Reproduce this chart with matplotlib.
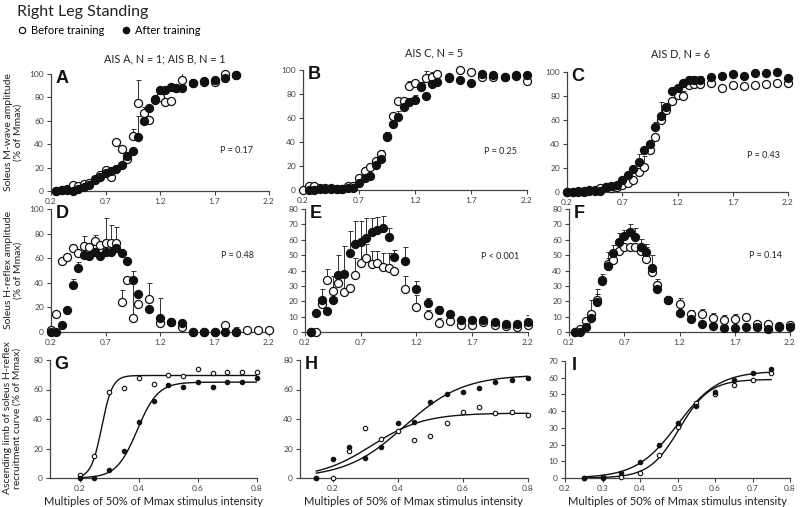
import matplotlib.pyplot as plt
import numpy as np
from matplotlib.lines import Line2D

plt.rcParams['font.family'] = ['Lato', 'DejaVu Sans']

nan = np.nan

# ---- data ----
# A: M-wave, AIS A/B
a_x = [0.25, 0.30, 0.35, 0.40, 0.45, 0.50, 0.55, 0.60, 0.65, 0.70, 0.75, 0.80, 0.85, 0.90, 0.95,
       1.00, 1.05, 1.10, 1.15, 1.20, 1.25, 1.30, 1.35, 1.40, 1.50, 1.60, 1.70, 1.80, 1.90]
a_before = [0, 1, 2, 5.5, 4, 6, 7, 10, 14, 18, 12, 42, 36, 27, 47, 75, 67, 61, 78, 80, 76, 77, 88, 95,
            92, 93, 93, 100, 99]
a_after = [0, 1, 1, 0, 2, 3, 5, 9, 12, 15, 17, 19, 22, 30, 34, 46, 60, 71, 79, 86, 86, 89, 88, 88,
           92, 94, 95, 97, 99]
a_before_err = [0, 0, 0, 0, 0, 0, 0, 3, 3, 0, 0, 0, 0, 0, 6, 20, 5, 0, 0, 5, 0, 0, 0, 8, 0, 0, 0, 0, 0]
a_after_err = [0, 0, 0, 0, 0, 0, 3, 2, 0, 0, 0, 0, 0, 0, 0, 18, 0, 0, 0, 3, 2, 0, 0, 0, 0, 0, 0, 0, 0]

# B, C: M-wave, AIS C / AIS D
bc_x = [0.20, 0.25, 0.30, 0.35, 0.40, 0.45, 0.50, 0.55, 0.60, 0.65, 0.70, 0.75, 0.80, 0.85, 0.90,
        0.95, 1.00, 1.05, 1.10, 1.15, 1.20, 1.25, 1.30, 1.35, 1.40, 1.50, 1.60, 1.70, 1.80, 1.90,
        2.00, 2.10, 2.20]
b_before = [0, 3, 3, 2, 2, 1.5, 1, 1, 3, 3, 10, 16, 19, 24, 30, 45, 62, 74, 74, 87, 89, 87, 93, 94, 97,
            94, 100, 98, 94, 94, 94, 95, 91]
b_after = [nan, 0, 0, 0.5, 1, 0.5, 1, 1, 1.5, 2, 5.5, 10, 12, 21, 26, 44, 55, 61, 69, 73, 75, 86, 78, 88, 90,
           93, 92, 89, 97, 96, 94, 96, 96]
b_before_err = [0, 0, 0, 0, 0, 0, 0, 0, 0, 0, 0, 0, 0, 2, 3, 3, 2, 3, 2, 4, 3, 3, 6, 4, 2,
                0, 0, 2, 0, 0, 0, 0, 0]
b_after_err = [0, 0, 0, 0, 0, 0, 0, 0, 0, 0, 0, 0, 0, 0, 0, 0, 4, 5, 5, 4, 4, 0, 3, 2, 0,
               0, 0, 0, 0, 0, 0, 0, 0]
c_before = [0, 0, 0.5, 1, 1.5, 2, 3, 4, 3, 4, 6, 7.5, 10, 17, 21, 35, 45.5, 60, 68, 76, 81, 80, 89, 90, 90,
            91, 87, 89, 88.5, 89, 90, 91, 91]
c_after = [0, 0, 0, 0, 0.5, 1, 1, 4, 5, 6, 10, 14, 19.5, 25, 35, 40, 54, 63, 71, 84, 87, 91, 93, 93, 93,
           96, 97, 98, 97, 99, 99, 100, 95]
c_before_err = [0, 0, 0, 0, 0, 0, 0, 0, 0, 0, 0, 0, 0, 0, 9, 0, 3, 0, 0, 0, 4, 4, 0, 0, 0,
                0, 0, 0, 0, 0, 0, 0, 0]
c_after_err = [0, 0, 0, 0, 0, 0, 0, 0, 0, 0, 0, 0, 0, 7, 0, 0, 4, 12, 0, 0, 0, 0, 4, 4, 4,
               0, 0, 0, 0, 0, 0, 0, 0]

# D, E, F: H-reflex
def_x = [0.20, 0.25, 0.30, 0.35, 0.40, 0.45, 0.50, 0.55, 0.60, 0.65, 0.70, 0.75, 0.80, 0.85, 0.90,
         0.95, 1.00, 1.10, 1.20, 1.30, 1.40, 1.50, 1.60, 1.70, 1.80, 1.90, 2.00, 2.10, 2.20]
d_before = [2, 15, 58, 61, 68, 64, 70, 69, 74, 71, 72, 72, 72, 24.5, 42, 11.7, 23,
            27, 7.4, 8, 4, 0, 0, 0, 5.5, 0, 1.4, 1.4, 1.4]
d_after = [0, 0, 5.5, 18, 38, 52, 63, 62, 65, 62, 65, 65, 68, 64.6, 58, 42, 31,
           19, 11, 8, 7, 0, 0, 0, 0, 0, nan, nan, nan]
d_before_err = [0, 0, 0, 0, 0, 0, 8, 0, 5, 0, 21, 15, 13, 10, 0, 38, 0,
                13, 20, 0, 0, 0, 0, 0, 0, 0, 0, 0, 0]
d_after_err = [0, 0, 0, 0, 5, 5, 0, 0, 0, 0, 0, 0, 0, 0, 0, 0, 0,
               0, 0, 0, 0, 0, 0, 0, 0, 4, 0, 0, 0]
e_before = [nan, 0, 0, 18.5, 34, 26.6, 32, 25.7, 28.3, 37, 45, 48, 44, 45, 42.5, 41.5, 40,
            27.7, 16.3, 11, 6, 7, 4.5, 4.5, 6.5, 4.5, 4, 3.5, 4.5]
e_after = [nan, 0, 12.6, 21, 13.7, 20.7, 37, 38, 51.7, 57, 58.4, 61, 65, 66.5, 67.6, 61.5, 48.6,
           46.4, 28, 19, 14, 11.5, 8, 8, 8, 6.5, 5.5, 5.5, 6.5]
e_before_err = [0, 0, 0, 0, 7, 10, 0, 14, 0, 11, 13, 9, 9, 8, 9, 10, 0,
                9, 8, 3, 3, 0, 0, 0, 0, 0, 0, 0, 0]
e_after_err = [0, 0, 0, 7, 0, 0, 13, 18, 14, 15, 14, 13, 9, 8, 8, 6, 5,
               9, 5, 3, 3, 1, 0, 0, 2, 0, 0, 0, 4.5]
f_before = [nan, 0, 2.2, 7, 11.6, 20.7, 34, 44, 47, 52.8, 55.6, 55.6, 55.6, 52.8, 47.3, 39.2, 30.5,
            21, 18, 11.6, 12, 9.4, 8, 8.7, 9.8, 5, 5, 3.5, 4.4]
f_after = [nan, 0, 0, 3, 9.4, 19.6, 33, 43, 51.7, 58.4, 62.6, 65, 61.7, 55.6, 52.3, 41.4, 28,
           21, 12.4, 8.7, 5.4, 4, 2.8, 2.8, 3.3, 3.3, 2.2, 3.7, 3.3]
f_before_err = [0, 0, 0, 0, 9, 7, 0, 8, 0, 0, 0, 0, 0, 0, 10, 11, 4,
                0, 4, 3, 3, 3, 3, 3, 2, 1, 0, 0, 0]
f_after_err = [0, 0, 0, 0, 0, 5, 4.5, 5, 5, 6, 4, 5, 6, 5, 3, 2, 0,
               2, 0, 0, 0, 0, 0, 0, 0, 0, 0, 0, 0]

# G, H, I: ascending limb + sigmoid fits (top, x50, slope)
g_x = def_x[:13]
g_before = d_before[:13]
g_after = d_after[:13]
g_fit_before = (69.5, 0.275, 0.018)
g_fit_after = (65, 0.395, 0.035)

h_x = [0.15, 0.20, 0.25, 0.30, 0.35, 0.40, 0.45, 0.50, 0.55, 0.60, 0.65, 0.70, 0.75, 0.80]
h_before = e_before[1:15]
h_after = e_after[1:15]
h_fit_before = (44, 0.32, 0.08)
h_fit_after = (70, 0.42, 0.09)

i_x = [0.25, 0.30, 0.35, 0.40, 0.45, 0.50, 0.55, 0.60, 0.65, 0.70, 0.75]
i_before = [0.2, 0.4, 0.4, 2.8, 13.8, 30.5, 44.7, 50.4, 55.4, 58.6, 62.6]
i_after = f_after[1:12]
i_fit_before = (59, 0.505, 0.04)
i_fit_after = (64, 0.50, 0.055)

p_values = ['P = 0.17', 'P = 0.25', 'P = 0.43', 'P = 0.48', 'P < 0.001', 'P = 0.14']
col_titles = ['AIS A, N = 1; AIS B, N = 1', 'AIS C, N = 5', 'AIS D, N = 6']

# ---- figure ----
fig = plt.figure(figsize=(8, 5.07), dpi=100)
W, H = 800, 507
AX_COL = '#444444'


def add_ax(l, r, t, b):
    return fig.add_axes([l / W, 1 - b / H, (r - l) / W, (b - t) / H])


def style(ax, xlim, xticks, ylim, yticks, letter, lx=0.02):
    ax.set_xlim(xlim)
    ax.set_ylim(ylim)
    ax.set_xticks(xticks)
    ax.set_yticks(yticks)
    ax.set_xticklabels([('%g' % t) for t in xticks])
    for s in ['top', 'right']:
        ax.spines[s].set_visible(False)
    for s in ['left', 'bottom']:
        ax.spines[s].set_color(AX_COL)
        ax.spines[s].set_linewidth(0.9)
    ax.tick_params(direction='out', length=3, width=0.8, colors=AX_COL, labelsize=6, pad=2)
    ax.patch.set_alpha(0)
    ax.text(lx, 1.03, letter, transform=ax.transAxes, ha='left', va='top',
            fontsize=13, fontweight='bold', family='Liberation Sans', color='#111111')


def err(ax, x, y, e):
    x = np.array(x, float); y = np.array(y, float); e = np.array(e, float)
    m = e > 0
    if m.any():
        ax.errorbar(x[m], y[m], yerr=[np.zeros(m.sum()), e[m]], fmt='none', ecolor='#333333',
                    elinewidth=0.7, capsize=1.8, capthick=0.7, zorder=2)


def big(ax, x, before, after, be, ae):
    err(ax, x, before, be)
    err(ax, x, after, ae)
    ax.plot(x, before, 'o', ms=5.8, mfc='white', mec='#111111', mew=0.9, ls='none', zorder=3, clip_on=False)
    ax.plot(x, after, 'o', ms=5.8, mfc='#111111', mec='#111111', mew=0.9, ls='none', zorder=4, clip_on=False)


def sig(x, p):
    top, x50, k = p
    return top / (1 + np.exp((x50 - x) / k))


def small(ax, x, before, after, fb, fa, x0, x1):
    xs = np.linspace(x0, x1, 200)
    ax.plot(xs, sig(xs, fb), color='#111111', lw=1.0, zorder=2)
    ax.plot(xs, sig(xs, fa), color='#111111', lw=1.0, zorder=2)
    ax.plot(x, before, 'o', ms=3.2, mfc='white', mec='#111111', mew=0.8, ls='none', zorder=3, clip_on=False)
    ax.plot(x, after, 'o', ms=3.2, mfc='#111111', mec='#111111', mew=0.8, ls='none', zorder=4, clip_on=False)


big_xt = [0.2, 0.7, 1.2, 1.7, 2.2]

axA = add_ax(51, 269, 74, 191)
big(axA, a_x, a_before, a_after, a_before_err, a_after_err)
style(axA, (0.2, 2.2), big_xt, (0, 100), range(0, 101, 20), 'A')

axB = add_ax(303, 527, 70, 190)
big(axB, bc_x, b_before, b_after, b_before_err, b_after_err)
style(axB, (0.2, 2.2), big_xt, (0, 100), range(0, 101, 20), 'B')

axC = add_ax(567, 788, 72, 192)
big(axC, bc_x, c_before, c_after, c_before_err, c_after_err)
style(axC, (0.2, 2.2), big_xt, (0, 100), range(0, 101, 20), 'C')

axD = add_ax(51, 269, 209, 332)
big(axD, def_x, d_before, d_after, d_before_err, d_after_err)
style(axD, (0.2, 2.2), big_xt, (0, 100), range(0, 101, 20), 'D')

axE = add_ax(305, 528, 209, 332)
big(axE, def_x, e_before, e_after, e_before_err, e_after_err)
style(axE, (0.2, 2.2), big_xt, (0, 80), range(0, 81, 10), 'E')

axF = add_ax(569, 790, 209, 332)
big(axF, def_x, f_before, f_after, f_before_err, f_after_err)
style(axF, (0.2, 2.2), big_xt, (0, 80), range(0, 81, 10), 'F')

axG = add_ax(50, 257, 360, 478)
small(axG, g_x, g_before, g_after, g_fit_before, g_fit_after, 0.2, 0.8)
style(axG, (0.1, 0.8), [0.2, 0.4, 0.6, 0.8], (0, 80), range(0, 81, 20), 'G')

axH = add_ax(300, 528, 360, 478)
small(axH, h_x, h_before, h_after, h_fit_before, h_fit_after, 0.15, 0.8)
style(axH, (0.1, 0.8), [0.2, 0.4, 0.6, 0.8], (0, 80), range(0, 81, 20), 'H')

axI = add_ax(565, 790, 361, 478)
small(axI, i_x, i_before, i_after, i_fit_before, i_fit_after, 0.25, 0.75)
style(axI, (0.2, 0.8), [0.2, 0.3, 0.4, 0.5, 0.6, 0.7, 0.8], (0, 70), range(0, 71, 10), 'I', lx=0.03)

# P values
p_pos = [(axA, 0.853, 0.35), (axB, 0.88, 0.32), (axC, 0.887, 0.30),
         (axD, 0.853, 0.62), (axE, 0.875, 0.61), (axF, 0.887, 0.62)]
for (ax, px, py), txt in zip(p_pos, p_values):
    ax.text(px, py, txt, transform=ax.transAxes, ha='center', va='center', fontsize=6.5, color='#222222')

for ax in [axG, axH, axI]:
    ax.set_xlabel('Multiples of 50% of Mmax stimulus intensity', fontsize=8, color='#222222', labelpad=3)

# column titles
for (cx, cy), t in zip([(165, 59), (434, 53), (681, 54)], col_titles):
    fig.text(cx / W, 1 - cy / H, t, ha='center', va='center', fontsize=7.8, color='#222222')

# y labels
fig.text(13 / W, 1 - 132 / H, 'Soleus M-wave amplitude\n(% of Mmax)', rotation=90,
         ha='center', va='center', fontsize=7.5, color='#222222', linespacing=1.1)
fig.text(13 / W, 1 - 270 / H, 'Soleus H-reflex amplitude\n(% of Mmax)', rotation=90,
         ha='center', va='center', fontsize=7.5, color='#222222', linespacing=1.1)
fig.text(12 / W, 1 - 418 / H, 'Ascending limb of soleus H-reflex\nrecruitment curve (% of Mmax)', rotation=90,
         ha='center', va='center', fontsize=7.5, color='#222222', linespacing=1.1)

# title and legend
fig.text(17 / W, 1 - 12 / H, 'Right Leg Standing', ha='left', va='center', fontsize=11.5, color='#222222')
handles = [Line2D([], [], marker='o', ls='none', ms=4.5, mfc='white', mec='#111111', mew=0.9),
           Line2D([], [], marker='o', ls='none', ms=4.5, mfc='#111111', mec='#111111')]
fig.legend(handles, ['Before training', 'After training'], loc='center left',
           bbox_to_anchor=(18 / W, 1 - 30 / H), ncol=2, frameon=False, fontsize=8,
           handletextpad=0.35, columnspacing=1.6, handlelength=0.8, borderpad=0, borderaxespad=0)

fig.savefig('out.png', dpi=100)
